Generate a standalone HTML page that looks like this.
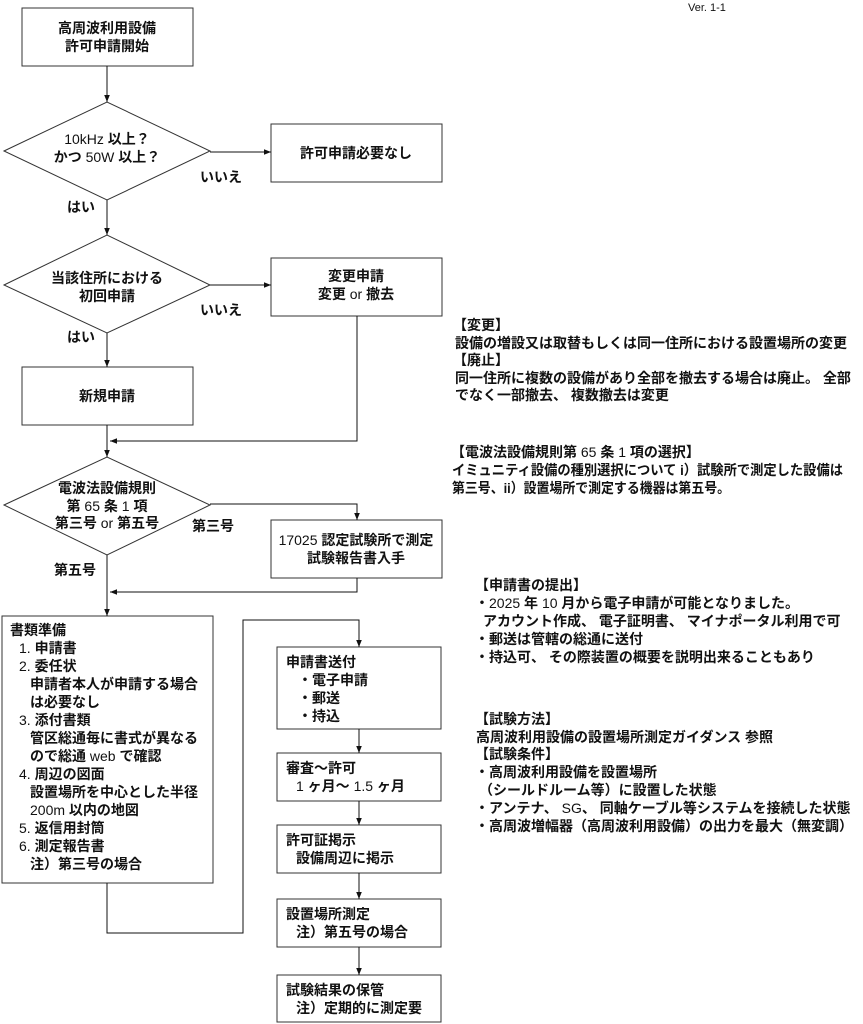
<!DOCTYPE html>
<html><head><meta charset="utf-8"><style>
html,body{margin:0;padding:0;background:#fff;}
svg{display:block;}
text{font-family:"Liberation Sans","Noto Sans CJK JP",sans-serif;font-size:14px;fill:#111;dominant-baseline:central;font-weight:bold;}
.n{font-weight:normal;}
</style></head><body>
<svg width="863" height="1024" viewBox="0 0 863 1024" xmlns="http://www.w3.org/2000/svg">
<defs><marker id="a" viewBox="0 0 10 10" refX="10" refY="5" markerWidth="7" markerHeight="7" orient="auto"><path d="M0,1 L10,5 L0,9 z" fill="#111"/></marker></defs>
<g fill="none" stroke="#333" stroke-width="1">
<rect x="22" y="8" width="171" height="58"/>
<polygon points="4,151 107,102 210,151 107,200"/>
<rect x="271" y="124" width="171" height="58"/>
<polygon points="4,285 107,235 210,285 107,333"/>
<rect x="271" y="258" width="171" height="58"/>
<rect x="22" y="367" width="171" height="58"/>
<polygon points="4,505 107,457 210,505 107,555"/>
<rect x="271" y="520" width="171" height="58"/>
<rect x="2" y="616" width="211" height="267"/>
<rect x="277" y="647" width="164" height="82"/>
<rect x="277" y="753" width="164" height="48"/>
<rect x="277" y="825" width="164" height="48"/>
<rect x="277" y="899" width="164" height="48"/>
<rect x="277" y="975" width="164" height="47"/>
</g>
<g fill="none" stroke="#111" stroke-width="1" marker-end="url(#a)">
<line x1="107" y1="66" x2="107" y2="102"/>
<line x1="210" y1="152" x2="271" y2="152"/>
<line x1="107" y1="200" x2="107" y2="235"/>
<line x1="210" y1="285" x2="271" y2="285"/>
<line x1="107" y1="333" x2="107" y2="367"/>
<polyline points="357,316 357,441 110,441"/>
<line x1="107" y1="425" x2="107" y2="457"/>
<polyline points="210,504 357,504 357,520"/>
<polyline points="357,578 357,592 110,592"/>
<line x1="107" y1="555" x2="107" y2="616"/>
<polyline points="107,883 107,933 243,933 243,620 359,620 359,647"/>
<line x1="359" y1="729" x2="359" y2="753"/>
<line x1="359" y1="801" x2="359" y2="825"/>
<line x1="359" y1="873" x2="359" y2="899"/>
<line x1="359" y1="947" x2="359" y2="975"/>
</g>
<text x="688" y="8" class="n" style="font-size:11px">Ver. 1-1</text>
<g text-anchor="middle">
<text x="107" y="28">高周波利用設備</text>
<text x="107" y="46">許可申請開始</text>
<text x="107" y="139"><tspan class="n">10kHz</tspan> 以上？</text>
<text x="107" y="157">かつ <tspan class="n">50W</tspan> 以上？</text>
<text x="356" y="153">許可申請必要なし</text>
<text x="107" y="278">当該住所における</text>
<text x="107" y="296">初回申請</text>
<text x="356" y="276">変更申請</text>
<text x="356" y="294">変更 <tspan class="n">or</tspan> 撤去</text>
<text x="107" y="396">新規申請</text>
<text x="107" y="488">電波法設備規則</text>
<text x="107" y="506">第 <tspan class="n">65</tspan> 条 <tspan class="n">1</tspan> 項</text>
<text x="107" y="523">第三号 <tspan class="n">or</tspan> 第五号</text>
<text x="356" y="540"><tspan class="n">17025</tspan> 認定試験所で測定</text>
<text x="356" y="558">試験報告書入手</text>
</g>
<text x="200" y="177">いいえ</text>
<text x="200" y="310">いいえ</text>
<text x="67" y="207">はい</text>
<text x="67" y="337">はい</text>
<text x="192" y="526">第三号</text>
<text x="54" y="570">第五号</text>
<text x="10" y="630">書類準備</text>
<text x="19" y="648"><tspan class="n">1.</tspan> 申請書</text>
<text x="19" y="666"><tspan class="n">2.</tspan> 委任状</text>
<text x="30" y="684">申請者本人が申請する場合</text>
<text x="30" y="702">は必要なし</text>
<text x="19" y="720"><tspan class="n">3.</tspan> 添付書類</text>
<text x="30" y="738">管区総通毎に書式が異なる</text>
<text x="30" y="756">ので総通 <tspan class="n">web</tspan> で確認</text>
<text x="19" y="774"><tspan class="n">4.</tspan> 周辺の図面</text>
<text x="30" y="792">設置場所を中心とした半径</text>
<text x="30" y="810"><tspan class="n">200m</tspan> 以内の地図</text>
<text x="19" y="828"><tspan class="n">5.</tspan> 返信用封筒</text>
<text x="19" y="846"><tspan class="n">6.</tspan> 測定報告書</text>
<text x="30" y="864">注）第三号の場合</text>
<text x="286" y="662">申請書送付</text>
<text x="298" y="680">・電子申請</text>
<text x="298" y="698">・郵送</text>
<text x="298" y="716">・持込</text>
<text x="286" y="768">審査～許可</text>
<text x="296" y="786"><tspan class="n">1</tspan> ヶ月～ <tspan class="n">1.5</tspan> ヶ月</text>
<text x="286" y="840">許可証掲示</text>
<text x="296" y="858">設備周辺に掲示</text>
<text x="286" y="914">設置場所測定</text>
<text x="296" y="932">注）第五号の場合</text>
<text x="286" y="990">試験結果の保管</text>
<text x="296" y="1008">注）定期的に測定要</text>
<text x="453" y="325">【変更】</text>
<text x="455" y="343">設備の増設又は取替もしくは同一住所における設置場所の変更</text>
<text x="453" y="360">【廃止】</text>
<text x="455" y="378">同一住所に複数の設備があり全部を撤去する場合は廃止。 全部</text>
<text x="455" y="395">でなく一部撤去、 複数撤去は変更</text>
<text x="451" y="452">【電波法設備規則第 <tspan class="n">65</tspan> 条 <tspan class="n">1</tspan> 項の選択】</text>
<text x="452" y="470" textLength="391" lengthAdjust="spacingAndGlyphs">イミュニティ設備の種別選択について i）試験所で測定した設備は</text>
<text x="452" y="488" textLength="278" lengthAdjust="spacingAndGlyphs">第三号、ii）設置場所で測定する機器は第五号。</text>
<text x="475" y="585">【申請書の提出】</text>
<text x="475" y="603">・<tspan class="n">2025</tspan> 年 <tspan class="n">10</tspan> 月から電子申請が可能となりました。</text>
<text x="483" y="621">アカウント作成、 電子証明書、 マイナポータル利用で可</text>
<text x="475" y="639">・郵送は管轄の総通に送付</text>
<text x="475" y="657">・持込可、 その際装置の概要を説明出来ることもあり</text>
<text x="475" y="719">【試験方法】</text>
<text x="476" y="737">高周波利用設備の設置場所測定ガイダンス 参照</text>
<text x="475" y="754">【試験条件】</text>
<text x="475" y="772">・高周波利用設備を設置場所</text>
<text x="479" y="790">（シールドルーム等）に設置した状態</text>
<text x="475" y="808">・アンテナ、 <tspan class="n">SG</tspan>、 同軸ケーブル等システムを接続した状態</text>
<text x="475" y="826">・高周波増幅器（高周波利用設備）の出力を最大（無変調）</text>
</svg>
</body></html>
